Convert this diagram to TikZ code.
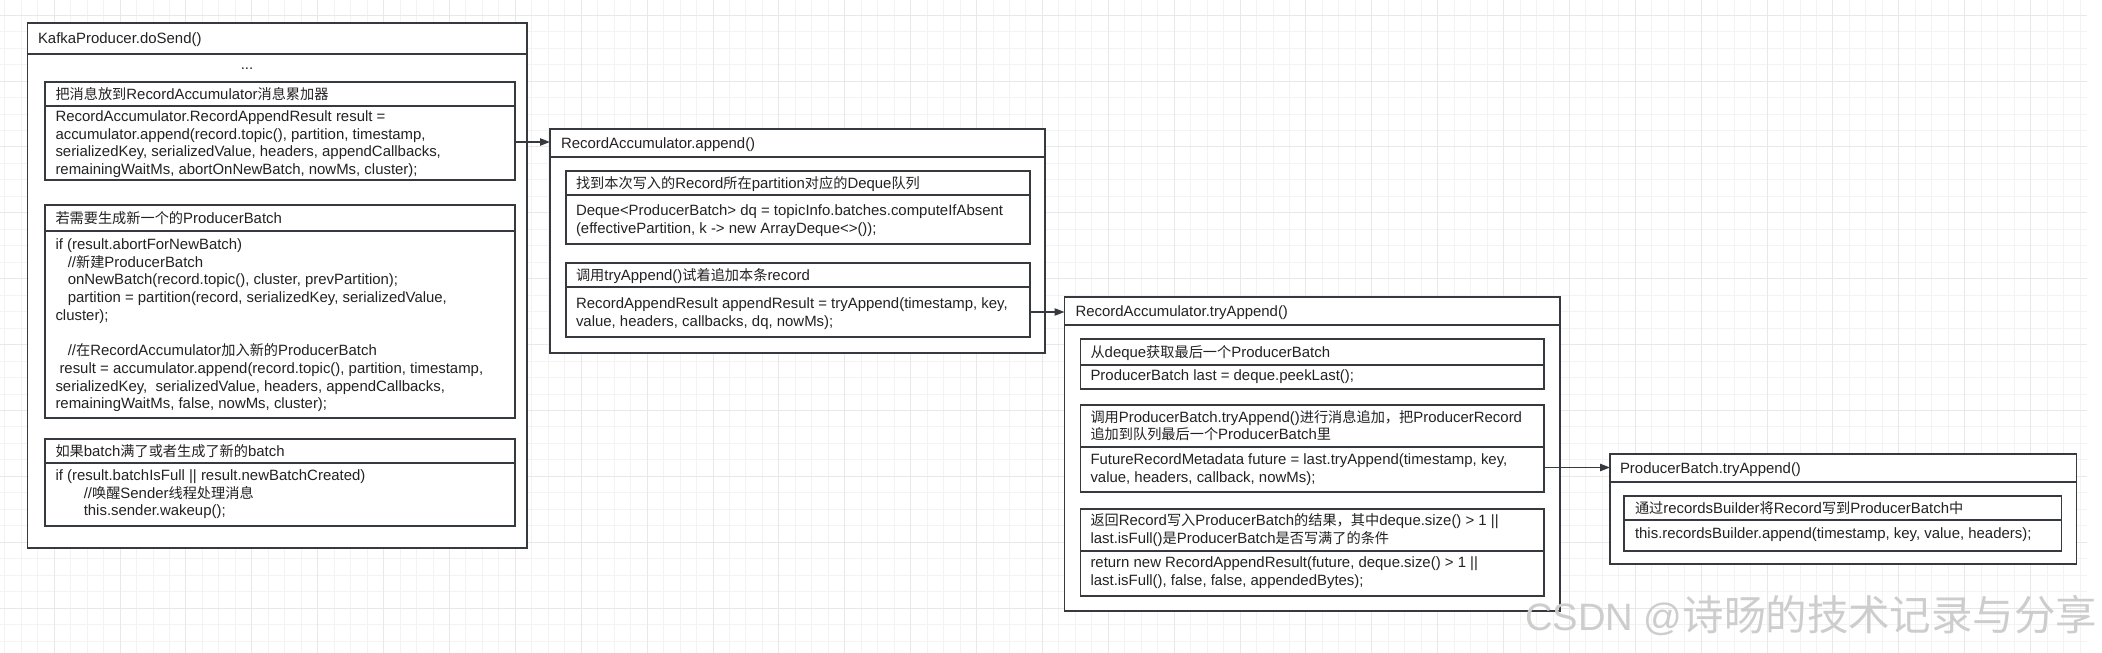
\documentclass[tikz,border=0pt]{standalone}
\usepackage{fontspec}
\setmainfont{Liberation Sans}
\newfontfamily\cjkf[Scale=0.95]{Noto Sans CJK SC}
\newfontfamily\cjkw{Noto Sans CJK SC}
\usetikzlibrary{arrows.meta,fit,calc}
\definecolor{linec}{HTML}{36393D}
\definecolor{txtc}{HTML}{222222}
\definecolor{gridminor}{HTML}{F3F3F3}
\definecolor{gridmajor}{HTML}{E8E8E8}
\definecolor{wmark}{HTML}{CDCDCD}
\newcommand\zh[1]{{\cjkf #1}}
\newcommand\fs{\fontsize{11.2pt}{13.3pt}\selectfont}
\newcommand\st{\rule{0pt}{10.5pt}}
\begin{document}
\begin{tikzpicture}[x=0.75pt,y=-0.75pt,
  box/.style={draw=linec, line width=1.4pt, fill=white, inner sep=0pt, outer sep=0pt},
  div/.style={draw=linec, line width=1.4pt},
  txt/.style={anchor=north west, inner sep=0pt, outer sep=0pt, align=left, font=\fs, text=txtc},
  arr/.style={draw=linec, line width=1.1pt, -{Triangle[length=7.5pt,width=5.5pt]}},
  gminor/.style={draw=gridminor, line width=0.75pt},
  gmajor/.style={draw=gridmajor, line width=0.75pt}]
\useasboundingbox (0,0) rectangle (2102,653);
\fill[white] (0,0) rectangle (2102,653);
% grid
\foreach \k in {0,...,126}{\pgfmathsetmacro\gx{4.8+16.47*\k}\draw[gminor] (\gx,0) -- (\gx,653);}
\foreach \k in {0,...,38}{\pgfmathsetmacro\gy{15.2+16.47*\k}\draw[gminor] (0,\gy) -- (2087,\gy);}
\foreach \k in {3,7,...,123}{\pgfmathsetmacro\gx{4.8+16.47*\k}\draw[gmajor] (\gx,0) -- (\gx,653);}
\foreach \k in {0,4,...,36}{\pgfmathsetmacro\gy{15.2+16.47*\k}\draw[gmajor] (0,\gy) -- (2087,\gy);}

% ---------- KafkaProducer.doSend() ----------
\node[box, fit={(27.5,23) (527,548)}] (b1) {};
\draw[div] (b1.west |- 0,54) -- (b1.east |- 0,54);
\node[txt] (t1) at (38,29.8) {\st KafkaProducer.doSend()};
\node[anchor=base, inner sep=0pt, font=\fs, text=txtc] (dots) at (247,69) {...};

\node[box, fit={(45,82) (515,180)}] (b1a) {};
\draw[div] (b1a.west |- 0,106) -- (b1a.east |- 0,106);
\node[txt] (t1ah) at (55.5,85.3) {\st\zh{把消息放到}RecordAccumulator\zh{消息累加器}};
\node[txt] (t1ab) at (55.5,107.3) {\st RecordAccumulator.RecordAppendResult result =\\
accumulator.append(record.topic(), partition, timestamp,\\
serializedKey, serializedValue, headers, appendCallbacks,\\
remainingWaitMs, abortOnNewBatch, nowMs, cluster);};

\node[box, fit={(45,205) (515,418)}] (b1b) {};
\draw[div] (b1b.west |- 0,231) -- (b1b.east |- 0,231);
\node[txt] (t1bh) at (55.5,209.8) {\st\zh{若需要生成新一个的}ProducerBatch};
\node[txt] (t1bb) at (55.5,235.3) {\st if (result.abortForNewBatch)\\
\hspace*{9.2pt}//\zh{新建}ProducerBatch\\
\hspace*{9.2pt}onNewBatch(record.topic(), cluster, prevPartition);\\
\hspace*{9.2pt}partition = partition(record, serializedKey, serializedValue,\\
cluster);\\[13.3pt]
\hspace*{9.2pt}//\zh{在}RecordAccumulator\zh{加入新的}ProducerBatch\\
\hspace*{3pt}result = accumulator.append(record.topic(), partition, timestamp,\\
serializedKey,\ \ serializedValue, headers, appendCallbacks,\\
remainingWaitMs, false, nowMs, cluster);};

\node[box, fit={(45,439) (515,526)}] (b1c) {};
\draw[div] (b1c.west |- 0,463) -- (b1c.east |- 0,463);
\node[txt] (t1ch) at (55.5,442.8) {\st\zh{如果}batch\zh{满了或者生成了新的}batch};
\node[txt] (t1cb) at (55.5,466.3) {\st if (result.batchIsFull || result.newBatchCreated)\\
\hspace*{21.2pt}//\zh{唤醒}Sender\zh{线程处理消息}\\
\hspace*{21.2pt}this.sender.wakeup();};

% ---------- RecordAccumulator.append() ----------
\node[box, fit={(550,129) (1045,353)}] (b2) {};
\draw[div] (b2.west |- 0,157) -- (b2.east |- 0,157);
\node[txt] (t2) at (561,134.3) {\st RecordAccumulator.append()};

\node[box, fit={(566,171) (1030,244)}] (b2a) {};
\draw[div] (b2a.west |- 0,195) -- (b2a.east |- 0,195);
\node[txt] (t2ah) at (576,174.3) {\st\zh{找到本次写入的}Record\zh{所在}partition\zh{对应的}Deque\zh{队列}};
\node[txt] (t2ab) at (576,201.3) {\st Deque<ProducerBatch> dq = topicInfo.batches.computeIfAbsent\\
(effectivePartition, k -> new ArrayDeque<>());};

\node[box, fit={(566,263) (1030,337)}] (b2b) {};
\draw[div] (b2b.west |- 0,287) -- (b2b.east |- 0,287);
\node[txt] (t2bh) at (576,266.3) {\st\zh{调用}tryAppend()\zh{试着追加本条}record};
\node[txt] (t2bb) at (576,294.3) {\st RecordAppendResult appendResult = tryAppend(timestamp, key,\\
value, headers, callbacks, dq, nowMs);};

% ---------- RecordAccumulator.tryAppend() ----------
\node[box, fit={(1064.5,297) (1560,611)}] (b3) {};
\draw[div] (b3.west |- 0,325) -- (b3.east |- 0,325);
\node[txt] (t3) at (1075.5,302.3) {\st RecordAccumulator.tryAppend()};

\node[box, fit={(1080.5,339) (1544,389)}] (b3a) {};
\draw[div] (b3a.west |- 0,365) -- (b3a.east |- 0,365);
\node[txt] (t3ah) at (1090.5,343.3) {\st\zh{从}deque\zh{获取最后一个}ProducerBatch};
\node[txt] (t3ab) at (1090.5,366.3) {\st ProducerBatch last = deque.peekLast();};

\node[box, fit={(1080.5,405) (1544,492)}] (b3b) {};
\draw[div] (b3b.west |- 0,447) -- (b3b.east |- 0,447);
\node[txt] (t3bh) at (1090.5,408) {\st\zh{调用}ProducerBatch.tryAppend()\zh{进行消息追加，把}ProducerRecord\\
\zh{追加到队列最后一个}ProducerBatch\zh{里}};
\node[txt] (t3bb) at (1090.5,450.3) {\st FutureRecordMetadata future = last.tryAppend(timestamp, key,\\
value, headers, callback, nowMs);};

\node[box, fit={(1080.5,509) (1544,596)}] (b3c) {};
\draw[div] (b3c.west |- 0,551) -- (b3c.east |- 0,551);
\node[txt] (t3ch) at (1090.5,511.3) {\st\zh{返回}Record\zh{写入}ProducerBatch\zh{的结果，其中}deque.size() > 1 ||\\
last.isFull()\zh{是}ProducerBatch\zh{是否写满了的条件}};
\node[txt] (t3cb) at (1090.5,553.6) {\st return new RecordAppendResult(future, deque.size() > 1 ||\\
last.isFull(), false, false, appendedBytes);};

% ---------- ProducerBatch.tryAppend() ----------
\node[box, fit={(1610,454) (2076.5,564)}] (b4) {};
\draw[div] (b4.west |- 0,482) -- (b4.east |- 0,482);
\node[txt] (t4) at (1620,459.6) {\st ProducerBatch.tryAppend()};

\node[box, fit={(1624,496) (2061.5,551)}] (b4a) {};
\draw[div] (b4a.west |- 0,520) -- (b4a.east |- 0,520);
\node[txt] (t4ah) at (1635,499.6) {\st\zh{通过}recordsBuilder\zh{将}Record\zh{写到}ProducerBatch\zh{中}};
\node[txt] (t4ab) at (1635,524.6) {\st this.recordsBuilder.append(timestamp, key, value, headers);};

% ---------- connectors ----------
\draw[arr] (b1a.east |- 0,142) -- (b2.west |- 0,142);
\draw[arr] (b2b.east |- 0,312) -- (b3.west |- 0,312);
\draw[arr] (b3b.east |- 0,467.5) -- (b4.west |- 0,467.5);

% ---------- watermark ----------
\node[anchor=base west, inner sep=0pt, text=wmark] (wm) at (1525,630)
  {\fontsize{28.6pt}{30pt}\selectfont CSDN @{\cjkw\fontsize{31.1pt}{32pt}\selectfont 诗旸的技术记录与分享}};
\end{tikzpicture}
\end{document}
